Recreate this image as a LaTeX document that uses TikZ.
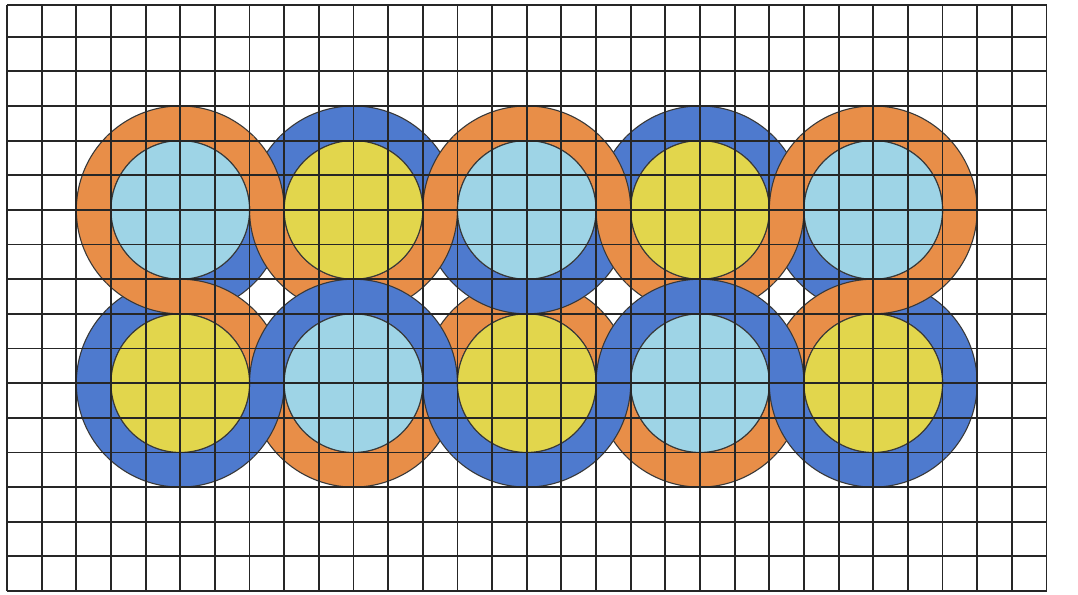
\documentclass[tikz,border=0pt]{standalone}
\definecolor{ringorange}{RGB}{232,142,72}
\definecolor{ringblue}{RGB}{78,122,206}
\definecolor{diskcyan}{RGB}{158,212,230}
\definecolor{diskyellow}{RGB}{226,214,76}
\tikzset{
  edgeline/.style={draw=black!78, line width=0.9pt},
  gridline/.style={draw=black!85, line width=1.5pt},
  diskshape/.style={draw=black!78, line width=0.9pt}
}
\newcommand{\bandpiece}[4]{%
  \begin{scope}[shift={(#1,#2)}]
    \fill[#4] ({#3-0.3}:3) arc[start angle={#3-0.3}, delta angle=45.6, radius=3]
      -- ({#3+45.3}:2) arc[start angle={#3+45.3}, delta angle=-45.6, radius=2] -- cycle;
    \draw[edgeline] (#3:3) arc[start angle=#3, delta angle=45, radius=3];
    \draw[edgeline] (#3:2) arc[start angle=#3, delta angle=45, radius=2];
  \end{scope}}
\begin{document}
\begin{tikzpicture}[x=1cm,y=1cm]
\useasboundingbox (-0.202,-0.085) rectangle (30.909,17.058);
\fill[white] (-0.202,-0.085) rectangle (30.909,17.058);
% ---- free pieces (no neighbour)
\foreach \a in {45,90,135,180} {\bandpiece{5}{11}{\a}{ringorange}}
\foreach \a in {45,90} {\bandpiece{10}{11}{\a}{ringblue}}
\foreach \a in {45,90} {\bandpiece{15}{11}{\a}{ringorange}}
\foreach \a in {45,90} {\bandpiece{20}{11}{\a}{ringblue}}
\foreach \a in {0,45,90,315} {\bandpiece{25}{11}{\a}{ringorange}}
\foreach \a in {135,180,225,270} {\bandpiece{5}{6}{\a}{ringblue}}
\foreach \a in {225,270} {\bandpiece{10}{6}{\a}{ringorange}}
\foreach \a in {225,270} {\bandpiece{15}{6}{\a}{ringblue}}
\foreach \a in {225,270} {\bandpiece{20}{6}{\a}{ringorange}}
\foreach \a in {225,270,315,0} {\bandpiece{25}{6}{\a}{ringblue}}
% ---- top row horizontal crossings (orange over)
\bandpiece{5}{11}{315}{ringblue}\bandpiece{10}{11}{135}{ringblue}
\bandpiece{5}{11}{0}{ringorange}\bandpiece{10}{11}{180}{ringorange}
\bandpiece{10}{11}{0}{ringblue}\bandpiece{15}{11}{180}{ringblue}
\bandpiece{10}{11}{315}{ringorange}\bandpiece{15}{11}{135}{ringorange}
\bandpiece{15}{11}{315}{ringblue}\bandpiece{20}{11}{135}{ringblue}
\bandpiece{15}{11}{0}{ringorange}\bandpiece{20}{11}{180}{ringorange}
\bandpiece{20}{11}{0}{ringblue}\bandpiece{25}{11}{180}{ringblue}
\bandpiece{20}{11}{315}{ringorange}\bandpiece{25}{11}{135}{ringorange}
% ---- bottom row horizontal crossings (blue over)
\bandpiece{5}{6}{0}{ringorange}\bandpiece{10}{6}{180}{ringorange}
\bandpiece{5}{6}{315}{ringblue}\bandpiece{10}{6}{135}{ringblue}
\bandpiece{10}{6}{315}{ringorange}\bandpiece{15}{6}{135}{ringorange}
\bandpiece{10}{6}{0}{ringblue}\bandpiece{15}{6}{180}{ringblue}
\bandpiece{15}{6}{0}{ringorange}\bandpiece{20}{6}{180}{ringorange}
\bandpiece{15}{6}{315}{ringblue}\bandpiece{20}{6}{135}{ringblue}
\bandpiece{20}{6}{315}{ringorange}\bandpiece{25}{6}{135}{ringorange}
\bandpiece{20}{6}{0}{ringblue}\bandpiece{25}{6}{180}{ringblue}
% ---- vertical crossings
\bandpiece{5}{11}{270}{ringblue}\bandpiece{5}{6}{90}{ringblue}
\bandpiece{5}{11}{225}{ringorange}\bandpiece{5}{6}{45}{ringorange}
\bandpiece{10}{11}{225}{ringorange}\bandpiece{10}{11}{270}{ringorange}
\bandpiece{10}{6}{45}{ringblue}\bandpiece{10}{6}{90}{ringblue}
\bandpiece{15}{6}{45}{ringorange}\bandpiece{15}{6}{90}{ringorange}
\bandpiece{15}{11}{225}{ringblue}\bandpiece{15}{11}{270}{ringblue}
\bandpiece{20}{11}{225}{ringorange}\bandpiece{20}{11}{270}{ringorange}
\bandpiece{20}{6}{45}{ringblue}\bandpiece{20}{6}{90}{ringblue}
\bandpiece{25}{11}{225}{ringblue}\bandpiece{25}{6}{45}{ringblue}
\bandpiece{25}{11}{270}{ringorange}\bandpiece{25}{6}{90}{ringorange}
% ---- inner disks
\foreach \x/\c in {5/diskcyan,10/diskyellow,15/diskcyan,20/diskyellow,25/diskcyan}
  {\filldraw[diskshape, fill=\c] (\x,11) circle[radius=2];}
\foreach \x/\c in {5/diskyellow,10/diskcyan,15/diskyellow,20/diskcyan,25/diskyellow}
  {\filldraw[diskshape, fill=\c] (\x,6) circle[radius=2];}
% ---- grid
\foreach \k in {0,...,30} {\draw[gridline] (\k,0) -- (\k,16.913);}
\foreach \k in {0,...,16} {\draw[gridline] (0,\k) -- (30,\k);}
\draw[gridline] (0,16.913) -- (30,16.913);
\end{tikzpicture}
\end{document}
